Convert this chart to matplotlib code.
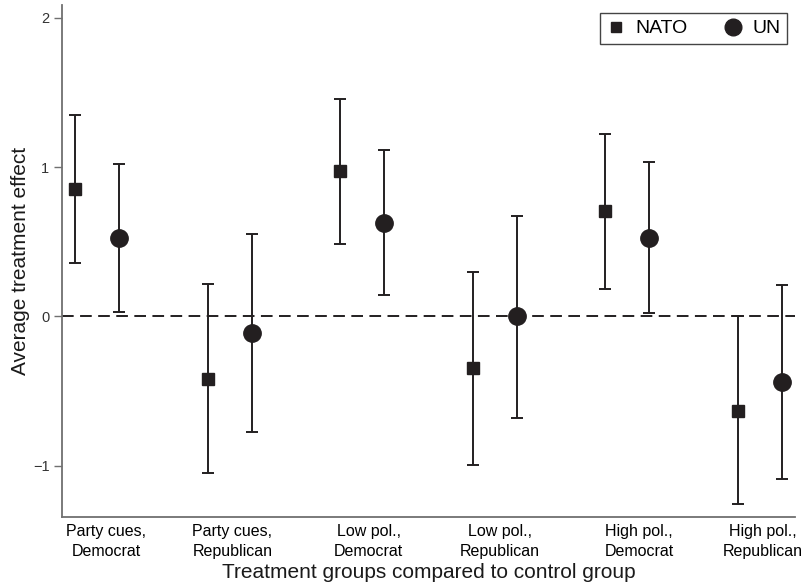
import numpy as np
import matplotlib
matplotlib.use("Agg")
import matplotlib.pyplot as plt
from matplotlib.lines import Line2D

plt.rcParams['font.family'] = ['Liberation Sans', 'DejaVu Sans']

# treatment groups (each compared against the control group)
groups = ['Party cues,\nDemocrat', 'Party cues,\nRepublican', 'Low pol.,\nDemocrat',
          'Low pol.,\nRepublican', 'High pol.,\nDemocrat', 'High pol.,\nRepublican']

# average treatment effects with 95% intervals
nato_est = [0.855, -0.42, 0.975, -0.347, 0.707, -0.631]
nato_lo = [0.358, -1.05, 0.485, -0.993, 0.186, -1.257]
nato_hi = [1.349, 0.215, 1.454, 0.295, 1.224, 0.0]

un_est = [0.526, -0.11, 0.629, 0.0, 0.526, -0.441]
un_lo = [0.029, -0.774, 0.141, -0.68, 0.022, -1.089]
un_hi = [1.02, 0.55, 1.116, 0.673, 1.036, 0.21]

ink = '#231f20'
spine_col = '#707070'

x = np.arange(len(groups))
off = 0.166

fig = plt.figure(figsize=(8.04, 5.86), dpi=100)
ax = fig.add_axes([0.0771, 0.1183, 0.9117, 0.8732])

ax.axhline(0, color=ink, lw=1.4, ls=(0, (6, 3.3)), zorder=1)

nato_est = np.array(nato_est)
un_est = np.array(un_est)
nato_err = [nato_est - np.array(nato_lo), np.array(nato_hi) - nato_est]
un_err = [un_est - np.array(un_lo), np.array(un_hi) - un_est]

ax.errorbar(x - off, nato_est, yerr=nato_err, fmt='s', color=ink, ms=8.2,
            elinewidth=1.4, capsize=4, capthick=1.4, zorder=3)
ax.errorbar(x + off, un_est, yerr=un_err, fmt='o', color=ink, ms=12.5,
            elinewidth=1.4, capsize=4, capthick=1.4, zorder=3)

ax.set_xlim(-0.265, 5.265)
ax.set_ylim(-1.342, 2.087)
ax.set_yticks([-1, 0, 1, 2])
ax.set_yticklabels(['\u22121', '0', '1', '2'])

# group labels sit a touch right of each pair
shift = [0.07, 0.02, 0.05, 0.04, 0.09, 0.02]
ax.set_xticks(x + np.array(shift))
ax.set_xticklabels(groups, fontsize=11.5, linespacing=1.45)
ax.tick_params(axis='x', length=0, pad=5)
ax.tick_params(axis='y', length=6, width=1.0, color=spine_col, pad=3, labelsize=10.5,
               labelcolor='#333333')

for s in ['top', 'right']:
    ax.spines[s].set_visible(False)
for s in ['left', 'bottom']:
    ax.spines[s].set_color(spine_col)
    ax.spines[s].set_linewidth(1.3)

ax.set_ylabel('Average treatment effect', fontsize=15, color='#1a1a1a', labelpad=2)
ax.set_xlabel('Treatment groups compared to control group', fontsize=15,
              color='#1a1a1a', labelpad=3)

handles = [Line2D([], [], marker='s', ls='none', color=ink, ms=7.5),
           Line2D([], [], marker='o', ls='none', color=ink, ms=12)]
leg = ax.legend(handles, ['NATO', 'UN'], ncol=2, fontsize=14, loc='upper right',
                bbox_to_anchor=(787 / 804, 1 - 13 / 586), bbox_transform=fig.transFigure,
                borderaxespad=0, fancybox=False, framealpha=1, edgecolor='#444444',
                handlelength=1.0, handletextpad=0.5, columnspacing=1.8,
                borderpad=0.35)
leg.get_frame().set_linewidth(1.0)

fig.savefig('out.png', dpi=100)
